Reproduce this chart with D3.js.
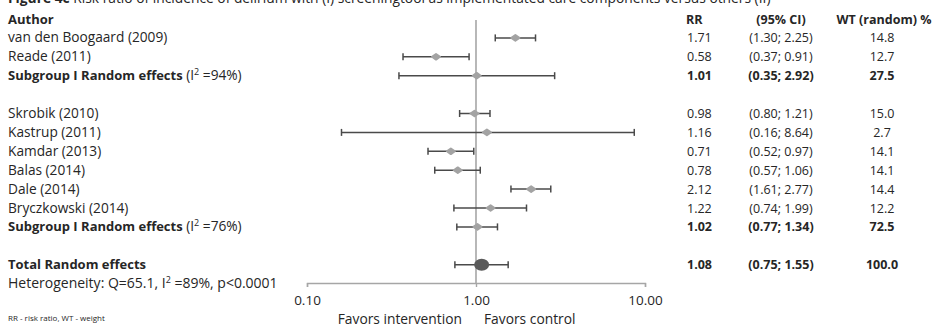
<!DOCTYPE html>
<html>
<head>
<meta charset="utf-8">
<script src="https://cdn.jsdelivr.net/npm/d3@7"></script>
<style>
  html, body { margin: 0; padding: 0; background: #fff; }
  svg { display: block; }
  text { font-family: "Open Sans", sans-serif; fill: #262626; }
</style>
</head>
<body>
<svg id="chart" width="932" height="326"></svg>
<script>
// Forest plot rows (row index 0 is the header; gaps are empty rows)
const rowLabels = ["van den Boogaard (2009)", "Reade (2011)", "Subgroup I Random effects",
  "Skrobik (2010)", "Kastrup (2011)", "Kamdar (2013)", "Balas (2014)", "Dale (2014)",
  "Bryczkowski (2014)", "Subgroup I Random effects", "Total Random effects"];
const rowIndex   = [1, 2, 3, 5, 6, 7, 8, 9, 10, 11, 13];
const rowKind    = ["study", "study", "subgroup", "study", "study", "study", "study", "study",
  "study", "subgroup", "total"];
const rowI2      = ["", "", "94%", "", "", "", "", "", "", "76%", ""];
const rrValues   = [1.71, 0.58, 1.01, 0.98, 1.16, 0.71, 0.78, 2.12, 1.22, 1.02, 1.08];
const ciLower    = [1.30, 0.37, 0.35, 0.80, 0.16, 0.52, 0.57, 1.61, 0.74, 0.77, 0.75];
const ciUpper    = [2.25, 0.91, 2.92, 1.21, 8.64, 0.97, 1.06, 2.77, 1.99, 1.34, 1.55];
const weights    = [14.8, 12.7, 27.5, 15.0, 2.7, 14.1, 14.1, 14.4, 12.2, 72.5, 100.0];
const axisTicks  = [0.1, 1, 10];
const heterogeneity = { Q: "65.1", I2: "89%", p: "<0.0001" };

const svg = d3.select("#chart");

const x = d3.scaleLog().domain([0.1, 10]).range([307, 645]);
const y = d3.scaleLinear().domain([0, 14]).range([19, 283.6]);

const f2 = d3.format(".2f");
const f1 = d3.format(".1f");

// Title (partly above the visible area)
const title = svg.append("text").attr("x", 8).attr("y", 3).style("font-size", "13.8px");
title.append("tspan").style("font-weight", "bold").text("Figure 4c");
title.append("tspan").text(" Risk ratio of  incidence of delirium with (I) screeningtool as implementated care components versus others (II)");

// Column headers
const hdrY = y(0) + 4.5;
svg.append("text").attr("x", 8).attr("y", hdrY).style("font-weight", "bold").style("font-size", "13px").text("Author");
svg.append("text").attr("x", 686).attr("y", hdrY).style("font-weight", "bold").style("font-size", "12.5px").text("RR");
svg.append("text").attr("x", 781).attr("y", hdrY).attr("text-anchor", "middle").style("font-weight", "bold").style("font-size", "12.5px").text("(95% CI)");
svg.append("text").attr("x", 884).attr("y", hdrY).attr("text-anchor", "middle").style("font-weight", "bold").style("font-size", "12.5px").text("WT (random) %");

const rows = rowLabels.map((label, i) => ({
  label, idx: rowIndex[i], kind: rowKind[i], i2: rowI2[i],
  rr: rrValues[i], lo: ciLower[i], hi: ciUpper[i], wt: weights[i]
}));

// Reference line at RR = 1
svg.append("line")
  .attr("x1", x(1)).attr("x2", x(1))
  .attr("y1", 20).attr("y2", 283)
  .attr("stroke", "#a6a6a6").attr("stroke-width", 1.6);

// Axis
const axisG = svg.append("g").attr("transform", "translate(0,283)");
axisG.call(d3.axisBottom(x).tickValues(axisTicks).tickFormat(f2).tickSize(4).tickPadding(8));
axisG.select(".domain").attr("stroke", "#a6a6a6").attr("stroke-width", 1.4);
axisG.selectAll(".tick line").attr("stroke", "#a6a6a6").attr("stroke-width", 1.4);
axisG.selectAll(".tick text").style("font-family", "'Open Sans', sans-serif").style("font-size", "13.5px").attr("fill", "#262626");

// Left labels
const labelG = svg.append("g");
rows.forEach(d => {
  const t = labelG.append("text").attr("x", 8).attr("y", y(d.idx) + 4.5);
  if (d.kind === "study") {
    t.style("font-size", "13.7px").text(d.label);
  } else {
    t.style("font-size", "13px");
    t.append("tspan").style("font-weight", "bold").text(d.label);
    if (d.i2) {
      t.append("tspan").style("font-size", "13.7px").text(" (I");
      t.append("tspan").attr("dy", -5).style("font-size", "9px").text("2");
      t.append("tspan").attr("dy", 5).style("font-size", "13.7px").text(" =" + d.i2 + ")");
    }
  }
});

// Heterogeneity line
const het = svg.append("text").attr("x", 8).attr("y", y(14) + 4.5).style("font-size", "14px");
het.append("tspan").text("Heterogeneity: Q=" + heterogeneity.Q + ", I");
het.append("tspan").attr("dy", -5).style("font-size", "9px").text("2");
het.append("tspan").attr("dy", 5).text(" =" + heterogeneity.I2 + ", p" + heterogeneity.p);

// Footnote and direction labels
svg.append("text").attr("x", 8).attr("y", 320.5).style("font-size", "8px").text("RR - risk ratio, WT - weight");
svg.append("text").attr("x", 462).attr("y", 323.5).attr("text-anchor", "end").style("font-size", "13.8px").text("Favors intervention");
svg.append("text").attr("x", 484).attr("y", 323.5).style("font-size", "13.8px").text("Favors control");

// Confidence intervals with end caps
const ciG = svg.append("g").attr("stroke", "#4a4a4a").attr("stroke-width", 1.5);
rows.forEach(d => {
  const cy = y(d.idx);
  ciG.append("line").attr("x1", x(d.lo)).attr("x2", x(d.hi)).attr("y1", cy).attr("y2", cy);
  ciG.append("line").attr("x1", x(d.lo)).attr("x2", x(d.lo)).attr("y1", cy - 3.5).attr("y2", cy + 3.5);
  ciG.append("line").attr("x1", x(d.hi)).attr("x2", x(d.hi)).attr("y1", cy - 3.5).attr("y2", cy + 3.5);
});

// Point estimates
const markG = svg.append("g");
rows.forEach(d => {
  const cx = x(d.rr), cy = y(d.idx);
  if (d.kind === "total") {
    markG.append("ellipse").attr("cx", cx).attr("cy", cy).attr("rx", 7.5).attr("ry", 6)
      .attr("fill", "#5a5a5a");
  } else {
    markG.append("path")
      .attr("d", `M${cx - 4},${cy} L${cx},${cy - 2.8} L${cx + 4},${cy} L${cx},${cy + 2.8} Z`)
      .attr("fill", "#a3a3a3").attr("stroke", "#a3a3a3").attr("stroke-width", 2)
      .attr("stroke-linejoin", "round");
  }
});

// Numeric columns
const numG = svg.append("g").style("font-size", "12.5px");
rows.forEach(d => {
  const by = y(d.idx) + 4.5;
  const bold = d.kind !== "study" ? "bold" : "normal";
  numG.append("text").attr("x", 687).attr("y", by).style("font-weight", bold).text(f2(d.rr));
  numG.append("text").attr("x", 781).attr("y", by).attr("text-anchor", "middle").style("font-weight", bold)
    .text("(" + f2(d.lo) + "; " + f2(d.hi) + ")");
  numG.append("text").attr("x", 882).attr("y", by).attr("text-anchor", "middle").style("font-weight", bold)
    .text(f1(d.wt));
});
</script>
</body>
</html>
